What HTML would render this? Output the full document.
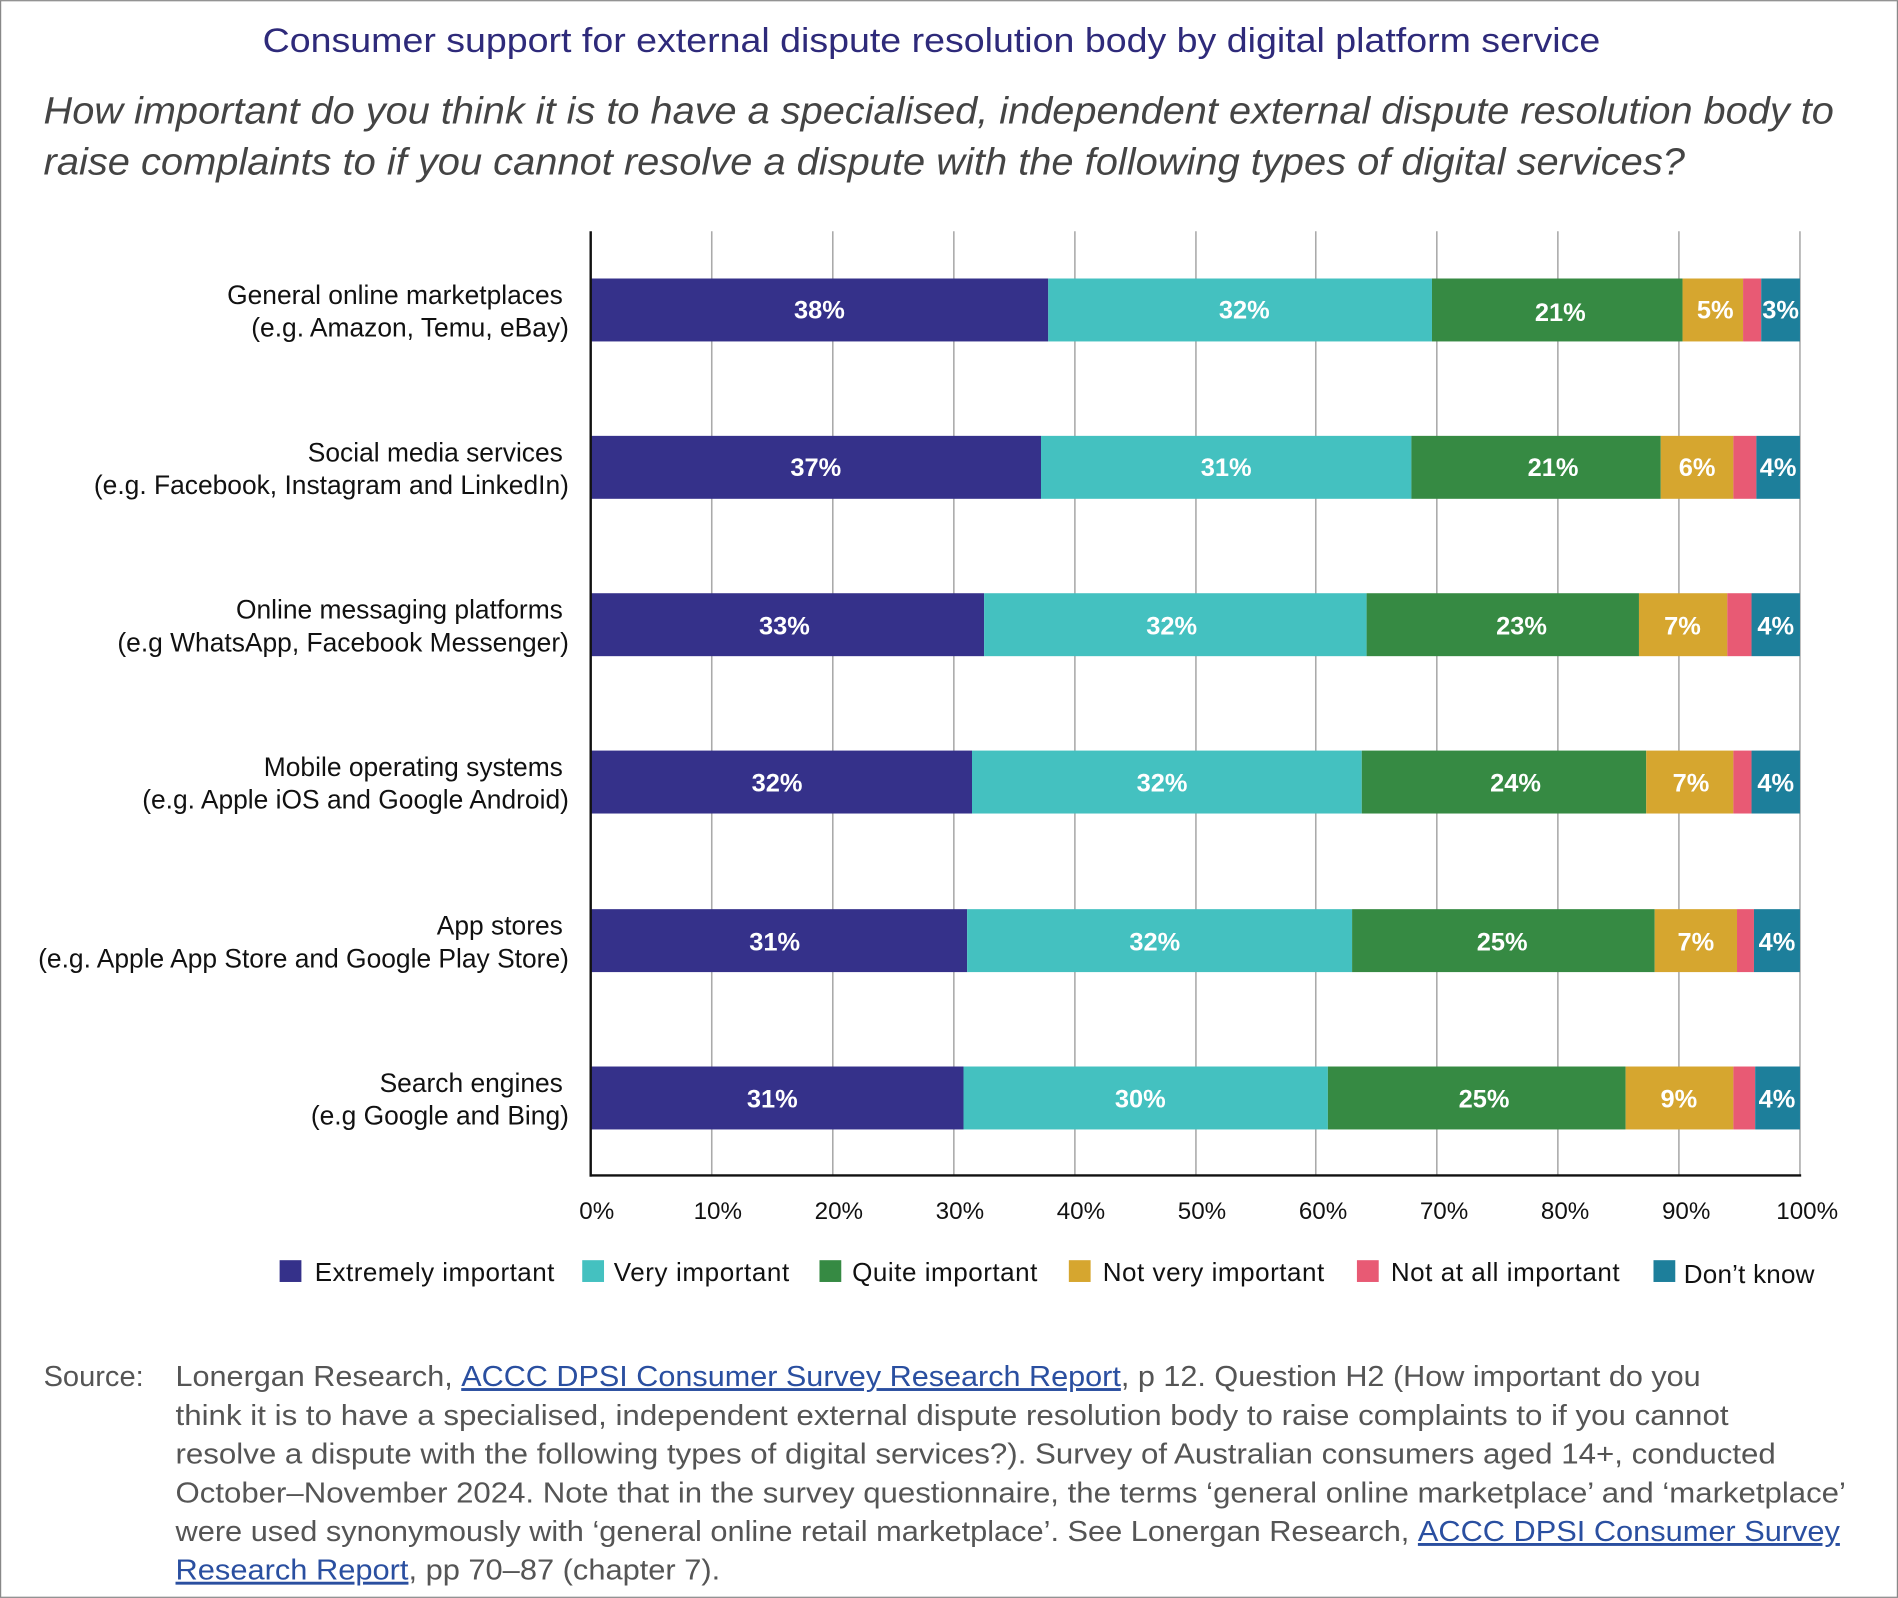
<!DOCTYPE html>
<html><head><meta charset="utf-8"><style>
html,body{margin:0;padding:0;background:#fff;}
svg{display:block;}
text{font-family:"Liberation Sans",sans-serif;}
</style></head><body>
<svg width="1898" height="1598" viewBox="0 0 1568 1320" xmlns="http://www.w3.org/2000/svg">
<rect x="0.5" y="0.5" width="1567" height="1319" fill="#fff" stroke="#888" stroke-width="1"/>
<text x="217" y="43" font-size="28" fill="#2e2a7a" textLength="1105" lengthAdjust="spacingAndGlyphs">Consumer support for external dispute resolution body by digital platform service</text>
<text x="36" y="102" font-size="31" font-style="italic" fill="#444" textLength="1479" lengthAdjust="spacingAndGlyphs">How important do you think it is to have a specialised, independent external dispute resolution body to</text>
<text x="36" y="144" font-size="31" font-style="italic" fill="#444" textLength="1356" lengthAdjust="spacingAndGlyphs">raise complaints to if you cannot resolve a dispute with the following types of digital services?</text>
<g stroke="#aaa" stroke-width="1.3">
<line x1="588" y1="191" x2="588" y2="971"/><line x1="688" y1="191" x2="688" y2="971"/><line x1="788" y1="191" x2="788" y2="971"/><line x1="888" y1="191" x2="888" y2="971"/><line x1="988" y1="191" x2="988" y2="971"/><line x1="1087" y1="191" x2="1087" y2="971"/><line x1="1187" y1="191" x2="1187" y2="971"/><line x1="1287" y1="191" x2="1287" y2="971"/><line x1="1387" y1="191" x2="1387" y2="971"/><line x1="1487" y1="191" x2="1487" y2="971"/>
</g>
<g font-size="21" font-weight="bold" fill="#fff" text-anchor="middle">
<rect x="488" y="230" width="378" height="52" fill="#35318a"/><rect x="866" y="230" width="317" height="52" fill="#44c1c0"/><rect x="1183" y="230" width="207" height="52" fill="#368a43"/><rect x="1390" y="230" width="50" height="52" fill="#d6a62f"/><rect x="1440" y="230" width="15" height="52" fill="#e85a74"/><rect x="1455" y="230" width="32" height="52" fill="#1d7f9b"/>
<text x="677" y="263">38%</text><text x="1028" y="263">32%</text><text x="1289" y="265">21%</text><text x="1417" y="263">5%</text><text x="1471" y="263">3%</text>
<rect x="488" y="360" width="372" height="52" fill="#35318a"/><rect x="860" y="360" width="306" height="52" fill="#44c1c0"/><rect x="1166" y="360" width="206" height="52" fill="#368a43"/><rect x="1372" y="360" width="60" height="52" fill="#d6a62f"/><rect x="1432" y="360" width="19" height="52" fill="#e85a74"/><rect x="1451" y="360" width="36" height="52" fill="#1d7f9b"/>
<text x="674" y="393">37%</text><text x="1013" y="393">31%</text><text x="1283" y="393">21%</text><text x="1402" y="393">6%</text><text x="1469" y="393">4%</text>
<rect x="488" y="490" width="325" height="52" fill="#35318a"/><rect x="813" y="490" width="316" height="52" fill="#44c1c0"/><rect x="1129" y="490" width="225" height="52" fill="#368a43"/><rect x="1354" y="490" width="73" height="52" fill="#d6a62f"/><rect x="1427" y="490" width="20" height="52" fill="#e85a74"/><rect x="1447" y="490" width="40" height="52" fill="#1d7f9b"/>
<text x="648" y="524">33%</text><text x="968" y="524">32%</text><text x="1257" y="524">23%</text><text x="1390" y="524">7%</text><text x="1467" y="524">4%</text>
<rect x="488" y="620" width="315" height="52" fill="#35318a"/><rect x="803" y="620" width="322" height="52" fill="#44c1c0"/><rect x="1125" y="620" width="235" height="52" fill="#368a43"/><rect x="1360" y="620" width="72" height="52" fill="#d6a62f"/><rect x="1432" y="620" width="15" height="52" fill="#e85a74"/><rect x="1447" y="620" width="40" height="52" fill="#1d7f9b"/>
<text x="642" y="654">32%</text><text x="960" y="654">32%</text><text x="1252" y="654">24%</text><text x="1397" y="654">7%</text><text x="1467" y="654">4%</text>
<rect x="488" y="751" width="311" height="52" fill="#35318a"/><rect x="799" y="751" width="318" height="52" fill="#44c1c0"/><rect x="1117" y="751" width="250" height="52" fill="#368a43"/><rect x="1367" y="751" width="68" height="52" fill="#d6a62f"/><rect x="1435" y="751" width="14" height="52" fill="#e85a74"/><rect x="1449" y="751" width="38" height="52" fill="#1d7f9b"/>
<text x="640" y="785">31%</text><text x="954" y="785">32%</text><text x="1241" y="785">25%</text><text x="1401" y="785">7%</text><text x="1468" y="785">4%</text>
<rect x="488" y="881" width="308" height="52" fill="#35318a"/><rect x="796" y="881" width="301" height="52" fill="#44c1c0"/><rect x="1097" y="881" width="246" height="52" fill="#368a43"/><rect x="1343" y="881" width="89" height="52" fill="#d6a62f"/><rect x="1432" y="881" width="18" height="52" fill="#e85a74"/><rect x="1450" y="881" width="37" height="52" fill="#1d7f9b"/>
<text x="638" y="915">31%</text><text x="942" y="915">30%</text><text x="1226" y="915">25%</text><text x="1387" y="915">9%</text><text x="1468" y="915">4%</text>
</g>
<line x1="488" y1="191" x2="488" y2="972" stroke="#111" stroke-width="2"/>
<line x1="487" y1="971" x2="1488" y2="971" stroke="#111" stroke-width="2"/>
<g font-size="21.8" fill="#111" text-anchor="end">
<text x="465" y="251">General online marketplaces</text><text x="470" y="278">(e.g. Amazon, Temu, eBay)</text>
<text x="465" y="381">Social media services</text><text x="470" y="408">(e.g. Facebook, Instagram and LinkedIn)</text>
<text x="465" y="511">Online messaging platforms</text><text x="470" y="538">(e.g WhatsApp, Facebook Messenger)</text>
<text x="465" y="641">Mobile operating systems</text><text x="470" y="668">(e.g. Apple iOS and Google Android)</text>
<text x="465" y="772">App stores</text><text x="470" y="799">(e.g. Apple App Store and Google Play Store)</text>
<text x="465" y="902">Search engines</text><text x="470" y="929">(e.g Google and Bing)</text>
</g>
<g font-size="20" fill="#111" text-anchor="middle">
<text x="493" y="1007">0%</text><text x="593" y="1007">10%</text><text x="693" y="1007">20%</text><text x="793" y="1007">30%</text><text x="893" y="1007">40%</text><text x="993" y="1007">50%</text><text x="1093" y="1007">60%</text><text x="1193" y="1007">70%</text><text x="1293" y="1007">80%</text><text x="1393" y="1007">90%</text><text x="1493" y="1007">100%</text>
</g>
<g font-size="21.5" fill="#111" lengthAdjust="spacingAndGlyphs">
<rect x="231" y="1041" width="18" height="18" fill="#35318a"/><text x="260" y="1058" textLength="198">Extremely important</text>
<rect x="481" y="1041" width="18" height="18" fill="#44c1c0"/><text x="507" y="1058" textLength="145">Very important</text>
<rect x="677" y="1041" width="18" height="18" fill="#368a43"/><text x="704" y="1058" textLength="153">Quite important</text>
<rect x="883" y="1041" width="18" height="18" fill="#d6a62f"/><text x="911" y="1058" textLength="183">Not very important</text>
<rect x="1121" y="1041" width="18" height="18" fill="#e85a74"/><text x="1149" y="1058" textLength="189">Not at all important</text>
<rect x="1366" y="1041" width="18" height="18" fill="#1d7f9b"/><text x="1391" y="1060" textLength="108">Don’t know</text>
</g>
<g font-size="24" fill="#555">
<text x="36" y="1145">Source:</text>
<text x="145" y="1145" textLength="1260" lengthAdjust="spacingAndGlyphs">Lonergan Research, <tspan fill="#2a4fa0" text-decoration="underline">ACCC DPSI Consumer Survey Research Report</tspan>, p 12. Question H2 (How important do you</text>
<text x="145" y="1177" textLength="1283" lengthAdjust="spacingAndGlyphs">think it is to have a specialised, independent external dispute resolution body to raise complaints to if you cannot</text>
<text x="145" y="1209" textLength="1322" lengthAdjust="spacingAndGlyphs">resolve a dispute with the following types of digital services?). Survey of Australian consumers aged 14+, conducted</text>
<text x="145" y="1241" textLength="1380" lengthAdjust="spacingAndGlyphs">October–November 2024. Note that in the survey questionnaire, the terms ‘general online marketplace’ and ‘marketplace’</text>
<text x="145" y="1273" textLength="1375" lengthAdjust="spacingAndGlyphs">were used synonymously with ‘general online retail marketplace’. See Lonergan Research, <tspan fill="#2a4fa0" text-decoration="underline">ACCC DPSI Consumer Survey</tspan></text>
<text x="145" y="1305" textLength="450" lengthAdjust="spacingAndGlyphs"><tspan fill="#2a4fa0" text-decoration="underline">Research Report</tspan>, pp 70–87 (chapter 7).</text>
</g>
</svg>
</body></html>
